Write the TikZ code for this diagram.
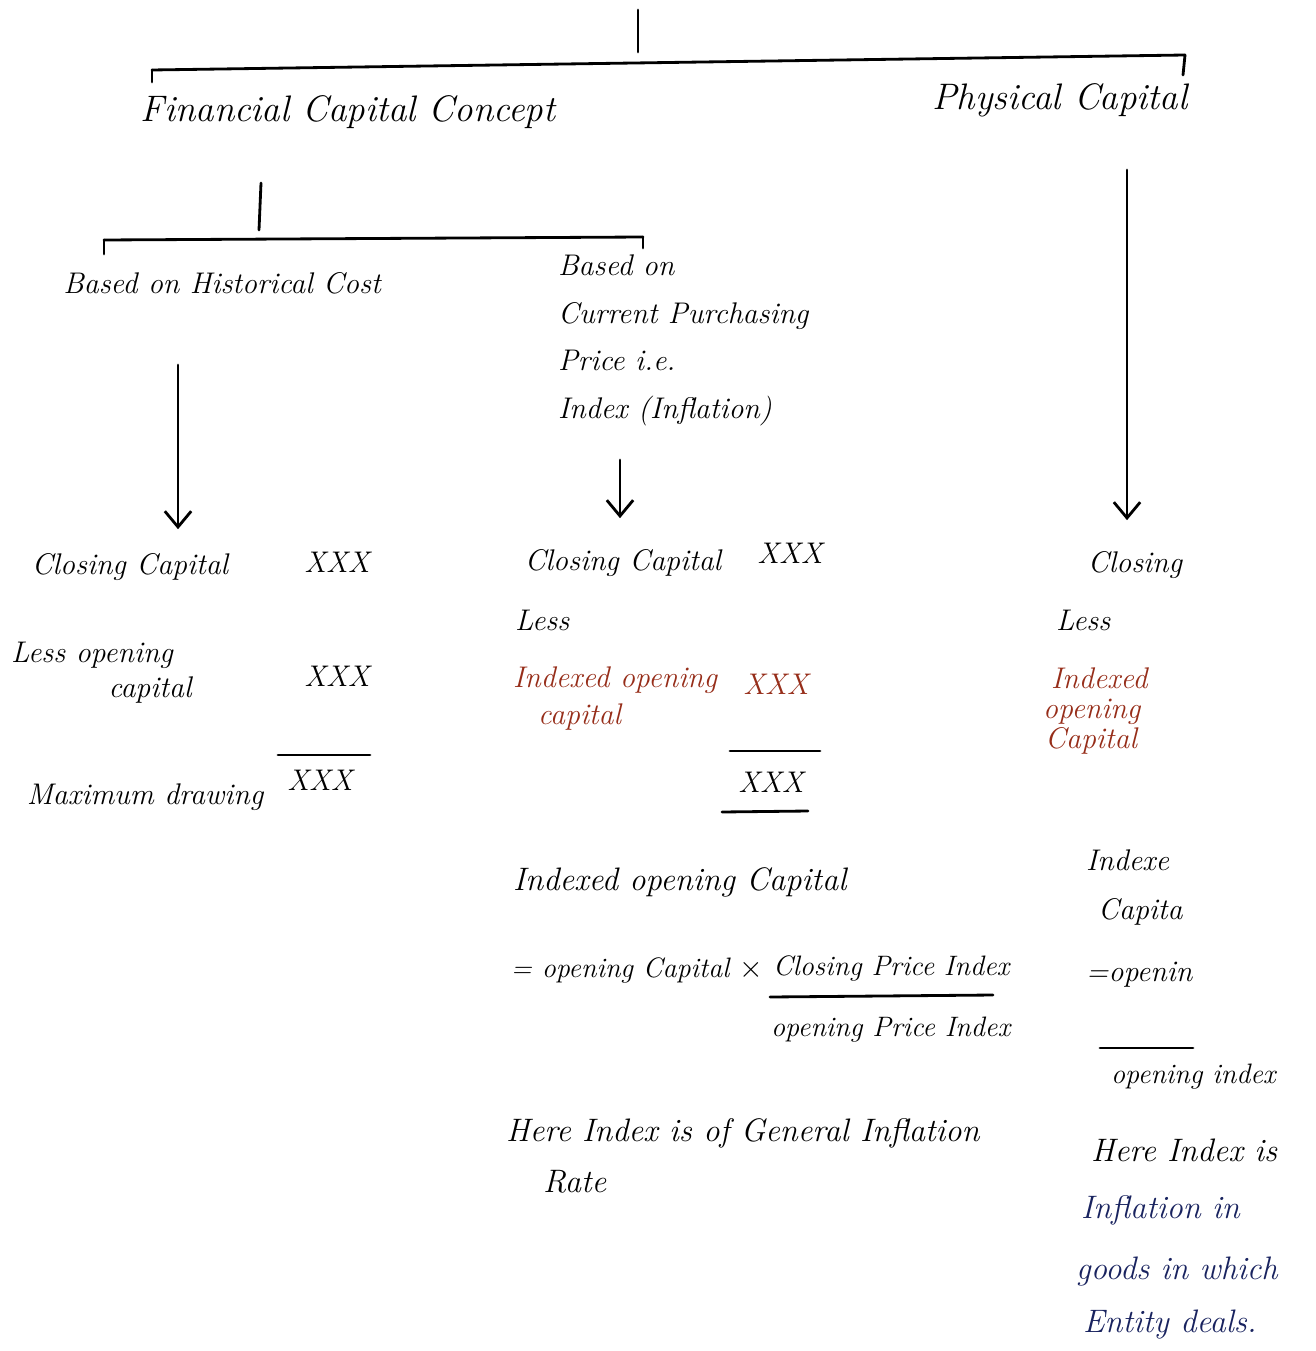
\documentclass[tikz,border=0pt]{standalone}
\usepackage{fontspec}
\usetikzlibrary{arrows.meta}
\definecolor{redink}{RGB}{150,45,25}
\definecolor{blueink}{RGB}{25,35,95}
\begin{document}
\begin{tikzpicture}[x=0.02cm,y=-0.02cm,line width=1.6pt,line cap=round,
  >={Straight Barb[length=9pt,width=15pt]},
  hand/.style={font=\fontsize{17}{27}\selectfont\itshape,inner sep=1pt},
  small/.style={font=\fontsize{16}{20}\selectfont\itshape,inner sep=1pt},
  large/.style={font=\fontsize{18.5}{22}\selectfont\itshape,inner sep=1pt},
  head/.style={font=\fontsize{21}{25}\selectfont\itshape,inner sep=1pt},
  redtxt/.style={hand,text=redink},
  bluetxt/.style={large,text=blueink}]
\useasboundingbox (0,0) rectangle (1315,1351);

% top stem and bracket
\coordinate (top) at (638,10);
\coordinate (topfoot) at (638,52);
\coordinate (brl) at (152,70);
\coordinate (brr) at (1185,55);
\draw (top) -- (topfoot);
\draw (brl) -- (brr);
\draw (brl) -- ++(0,12);
\draw (brr) -- ++(-2,20);

% the two concepts
\node[head] (fin) at (348,112) {Financial Capital Concept};
\node[head] (phys) at (1060,100) {Physical Capital};

% second stem and bracket
\coordinate (fstem) at (261,183);
\coordinate (ffoot) at (259,230);
\coordinate (sbl) at (104,240);
\coordinate (sbr) at (643,237);
\draw (fstem) -- (ffoot);
\draw (sbl) -- (sbr);
\draw (sbl) -- ++(0,14);
\draw (sbr) -- ++(0,11);

\node[hand] (hist) at (222,283) {Based on Historical Cost};
\node[hand,align=left,anchor=north west] (cur) at (555,252)
  {Based on\\Current Purchasing\\Price i.e.\\Index (Inflation)};

% arrows
\coordinate (ha) at (178,365);
\coordinate (ma) at (620,460);
\coordinate (pa) at (1127,170);

% left block
\node[hand] (lclose) at (130,567) {Closing Capital};
\node[hand] (lx1) at (337,562) {XXX};
\node[hand,anchor=west] (lless) at (8,655) {Less opening};
\node[hand] (lcap) at (150,690) {capital};
\node[hand] (lx2) at (337,676) {XXX};
\draw (278,755) -- (370,755);
\node[hand] (ldraw) at (145,797) {Maximum drawing};
\node[hand] (lx3) at (320,780) {XXX};

% middle block
\node[hand] (mclose) at (623,563) {Closing Capital};
\node[hand] (mx1) at (790,553) {XXX};
\node[hand,anchor=west] (mless) at (512,620) {Less};
\node[redtxt,anchor=west] (mind) at (510,680) {Indexed opening};
\node[redtxt,anchor=west] (mcap) at (535,717) {capital};
\node[redtxt] (mx2) at (776,684) {XXX};
\draw (730,751) -- (820,751);
\node[hand] (mx3) at (771,782) {XXX};
\draw (722,812) -- (808,811);

\node[large,anchor=west] (iocap) at (510,882) {Indexed opening Capital};
\node[small,anchor=east] (eq) at (766,970) {= opening Capital $\times$};
\node[small,anchor=west] (num) at (770,968) {Closing Price Index};
\node[small,anchor=west] (den) at (768,1030) {opening Price Index};
\draw (770,997) -- (993,995);
\node[large,anchor=west] (here) at (503,1133) {Here Index is of General Inflation};
\node[large,anchor=west] (rate) at (540,1182) {Rate};

% right block
\node[hand] (rclose) at (1135,565) {Closing};
\node[hand,anchor=west] (rless) at (1053,620) {Less};
\node[redtxt,anchor=west] (rind) at (1048,678) {Indexed};
\node[redtxt,anchor=west] (rop) at (1040,712) {opening};
\node[redtxt,anchor=west] (rcap) at (1042,741) {Capital};

\node[hand,anchor=west] (rind2) at (1083,860) {Indexe};
\node[hand,anchor=west] (rcap2) at (1095,912) {Capita};
\node[hand,anchor=west] (req) at (1083,975) {=openin};
\draw (1100,1048) -- (1193,1048);
\node[small,anchor=west] (rden) at (1108,1077) {opening index};
\node[large,anchor=west] (rhere) at (1088,1150) {Here Index is};
\node[bluetxt,anchor=west] (rinf) at (1078,1210) {Inflation in};
\node[bluetxt,anchor=west] (rgoods) at (1073,1272) {goods in which};
\node[bluetxt,anchor=west] (rent) at (1080,1325) {Entity deals.};

\draw[->,shorten >=12pt] (ha) -- (ha |- lclose.north);
\draw[->,shorten >=16pt] (ma) -- (ma |- mclose.north);
\draw[->,shorten >=16pt] (pa) -- (pa |- rclose.north);

\end{tikzpicture}
\end{document}
